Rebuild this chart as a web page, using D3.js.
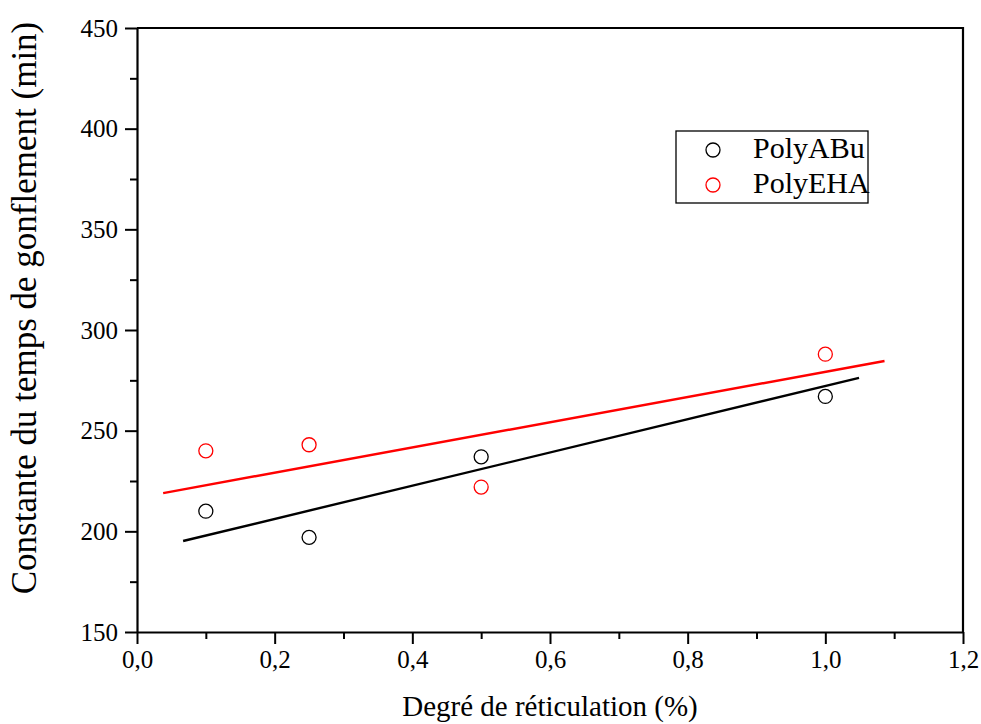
<!DOCTYPE html>
<html>
<head>
<meta charset="utf-8">
<script src="https://cdn.jsdelivr.net/npm/d3@7"></script>
<style>
  body { margin: 0; background: #fff; }
  svg text { font-family: "Liberation Serif", "Times New Roman", serif; fill: #000; }
</style>
</head>
<body>
<svg id="chart" width="981" height="724"></svg>
<script>
// values
const xVals = [0.1, 0.25, 0.5, 1.0];
const polyABu = [210, 197, 237, 267];
const polyEHA = [240, 243, 222, 288];
// fitted line end points (x, y) as drawn
const fitABu = [[0.067, 195.2], [1.049, 276.2]];
const fitEHA = [[0.038, 219.0], [1.086, 284.6]];
const xTicks = [0, 0.2, 0.4, 0.6, 0.8, 1.0, 1.2];
const yTicks = [150, 200, 250, 300, 350, 400, 450];
const series = [
    { name: "PolyABu", values: polyABu, fit: fitABu, color: "#000" },
    { name: "PolyEHA", values: polyEHA, fit: fitEHA, color: "#ff0000" }
];

const svg = d3.select("#chart");
const plotL = 137, plotR = 963, plotT = 28, plotB = 632;

const x = d3.scaleLinear().domain([0, 1.2]).range([plotL, plotR]);
const y = d3.scaleLinear().domain([150, 450]).range([plotB, plotT]);
const fmt = d => d3.format(".1f")(d).replace(".", ",");

// minor ticks first
svg.append("g")
    .attr("transform", `translate(0,${plotB})`)
    .call(d3.axisBottom(x).tickValues(d3.range(0.1, 1.2, 0.2)).tickSize(7).tickFormat(""))
    .call(g => g.select(".domain").remove())
    .selectAll("line").attr("stroke-width", 2);
svg.append("g")
    .attr("transform", `translate(${plotL},0)`)
    .call(d3.axisLeft(y).tickValues(d3.range(175, 450, 50)).tickSize(7).tickFormat(""))
    .call(g => g.select(".domain").remove())
    .selectAll("line").attr("stroke-width", 2);

// main axes
const xAxis = svg.append("g")
    .attr("transform", `translate(0,${plotB})`)
    .call(d3.axisBottom(x).tickValues(xTicks).tickSize(12).tickSizeOuter(0).tickPadding(6).tickFormat(fmt));
const yAxis = svg.append("g")
    .attr("transform", `translate(${plotL},0)`)
    .call(d3.axisLeft(y).tickValues(yTicks).tickSize(12).tickSizeOuter(0).tickPadding(7));
[xAxis, yAxis].forEach(g => {
    g.attr("font-family", null).attr("font-size", null);
    g.select(".domain").attr("stroke-width", 2.2);
    g.selectAll("line").attr("stroke-width", 2);
    g.selectAll("text").style("font-size", "25px");
});

// frame top and right
svg.append("path")
    .attr("d", `M${plotL},${plotT}H${plotR}V${plotB}`)
    .attr("fill", "none").attr("stroke", "#000").attr("stroke-width", 2.2);

// fit lines
const line = d3.line().x(d => x(d[0])).y(d => y(d[1]));
svg.selectAll(".fit").data(series).enter()
    .append("path").attr("class", "fit")
    .attr("d", d => line(d.fit))
    .attr("fill", "none")
    .attr("stroke", d => d.color)
    .attr("stroke-width", 2.4);

// markers
series.forEach(s => {
    svg.append("g").selectAll("circle")
        .data(s.values).enter()
        .append("circle")
        .attr("cx", (d, i) => x(xVals[i]))
        .attr("cy", d => y(d))
        .attr("r", 7)
        .attr("fill", "none")
        .attr("stroke", s.color)
        .attr("stroke-width", 1.3);
});

// legend
const lg = svg.append("g");
lg.append("rect")
    .attr("x", 676).attr("y", 131).attr("width", 192).attr("height", 72)
    .attr("fill", "#fff").attr("stroke", "#000").attr("stroke-width", 1.3);
series.forEach((s, i) => {
    lg.append("circle")
        .attr("cx", 713).attr("cy", 150 + i * 35).attr("r", 7)
        .attr("fill", "none").attr("stroke", s.color).attr("stroke-width", 1.3);
    lg.append("text")
        .attr("x", 753).attr("y", 158 + i * 35)
        .style("font-size", "30px")
        .text(s.name);
});

// axis titles
svg.append("text")
    .attr("x", 550).attr("y", 716)
    .attr("text-anchor", "middle")
    .style("font-size", "29px")
    .text("Degré de réticulation (%)");
svg.append("text")
    .attr("transform", "translate(36,308) rotate(-90)")
    .attr("text-anchor", "middle")
    .style("font-size", "35px")
    .text("Constante du temps de gonflement (min)");
</script>
</body>
</html>
